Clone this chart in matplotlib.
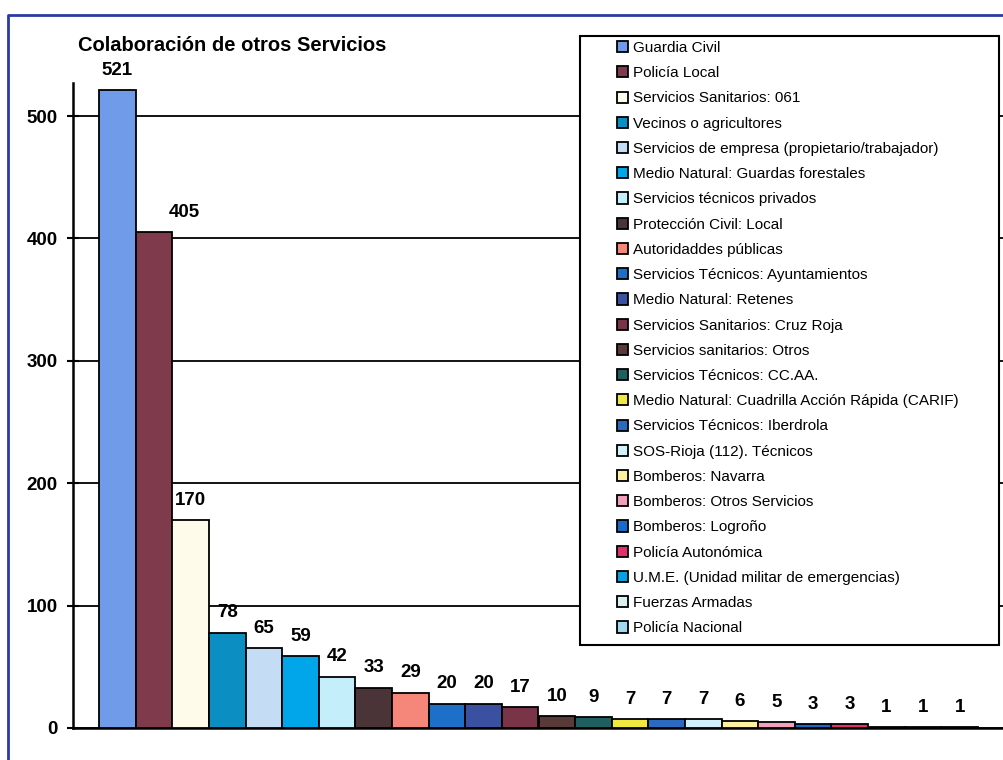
import matplotlib
matplotlib.use("Agg")
import matplotlib.pyplot as plt
import numpy as np
from matplotlib.patches import Patch, Rectangle
from matplotlib.lines import Line2D

plt.rcParams['font.family'] = ['Liberation Sans', 'DejaVu Sans']

servicios = [
    "Guardia Civil",
    "Policía Local",
    "Servicios Sanitarios: 061",
    "Vecinos o agricultores",
    "Servicios de empresa (propietario/trabajador)",
    "Medio Natural: Guardas forestales",
    "Servicios técnicos privados",
    "Protección Civil: Local",
    "Autoridaddes públicas",
    "Servicios Técnicos: Ayuntamientos",
    "Medio Natural: Retenes",
    "Servicios Sanitarios: Cruz Roja",
    "Servicios sanitarios: Otros",
    "Servicios Técnicos: CC.AA.",
    "Medio Natural: Cuadrilla Acción Rápida (CARIF)",
    "Servicios Técnicos: Iberdrola",
    "SOS-Rioja (112). Técnicos",
    "Bomberos: Navarra",
    "Bomberos: Otros Servicios",
    "Bomberos: Logroño",
    "Policía Autonómica",
    "U.M.E. (Unidad militar de emergencias)",
    "Fuerzas Armadas",
    "Policía Nacional",
]
intervenciones = [521, 405, 170, 78, 65, 59, 42, 33, 29, 20, 20, 17,
                  10, 9, 7, 7, 7, 6, 5, 3, 3, 1, 1, 1]
colores = [
    "#6f9be8", "#7f3a4c", "#fffbea", "#0b8fc2", "#c5dcf5", "#00a5ea",
    "#c4eefa", "#4a3438", "#f5877a", "#1e6fc8", "#3a50a0", "#7a3448",
    "#5a3a38", "#1f5f5f", "#f0e840", "#2a6ac0", "#d0f2fa", "#fff0a0",
    "#f0a0b8", "#1a6ac8", "#e03070", "#0aa0e0", "#d8f0f0", "#a0d8f0",
]
yticks = [0, 100, 200, 300, 400, 500]

W, H = 1004, 760
fig = plt.figure(figsize=(W / 100, H / 100), dpi=100)
ax = fig.add_axes([73 / W, 1 - 728 / H, 1 - 73 / W, (728 - 83) / H])

x = np.arange(len(intervenciones))
ax.bar(x, intervenciones, width=1.0, color=colores, edgecolor="black",
       linewidth=1.3, zorder=3)

for xi, v in zip(x, intervenciones):
    dx = 22 if v == 405 else 0
    ax.annotate(str(v), (xi, v), xytext=(dx, 8), textcoords="offset points",
                ha="center", va="bottom", fontsize=13.5, fontweight="bold",
                zorder=4)

ax.set_xlim(-1.21, len(intervenciones) - 1 + 1.21)
ax.set_ylim(0, 527)
ax.set_xticks([])
ax.set_yticks(yticks)
ax.set_yticklabels([str(t) for t in yticks], fontsize=13.5, fontweight="bold")
ax.tick_params(axis="y", direction="inout", length=8, width=1.5, pad=7)
ax.yaxis.grid(True, color="black", linewidth=1.3)
ax.set_axisbelow(True)
for s in ["top", "right"]:
    ax.spines[s].set_visible(False)
for s in ["left", "bottom"]:
    ax.spines[s].set_linewidth(1.8)

fig.text(78 / W, 1 - 51 / H, "Colaboración de otros Servicios",
         fontsize=14.5, fontweight="bold", va="baseline", ha="left")

# caja de la leyenda
fig.add_artist(Rectangle((580 / W, 1 - 645 / H), 419 / W, 609 / H,
                         transform=fig.transFigure, facecolor="white",
                         edgecolor="black", linewidth=1.5, zorder=5))

handles = [Patch(facecolor=c, edgecolor="black", linewidth=1.3) for c in colores]
leg = fig.legend(handles, servicios, loc="upper left",
                 bbox_to_anchor=(617 / W, 1 - 41 / H), frameon=False,
                 fontsize=11, handlelength=0.75, handleheight=0.75,
                 handletextpad=0.3, labelspacing=0.735, borderpad=0,
                 borderaxespad=0)
leg.set_zorder(6)

# marco azul
fig.add_artist(Line2D([8 / W, 8 / W, 1.01], [-0.01, 1 - 15 / H, 1 - 15 / H],
                      transform=fig.transFigure, color="#2a3aa8",
                      linewidth=2, zorder=7))

fig.savefig("out.png", dpi=100)
